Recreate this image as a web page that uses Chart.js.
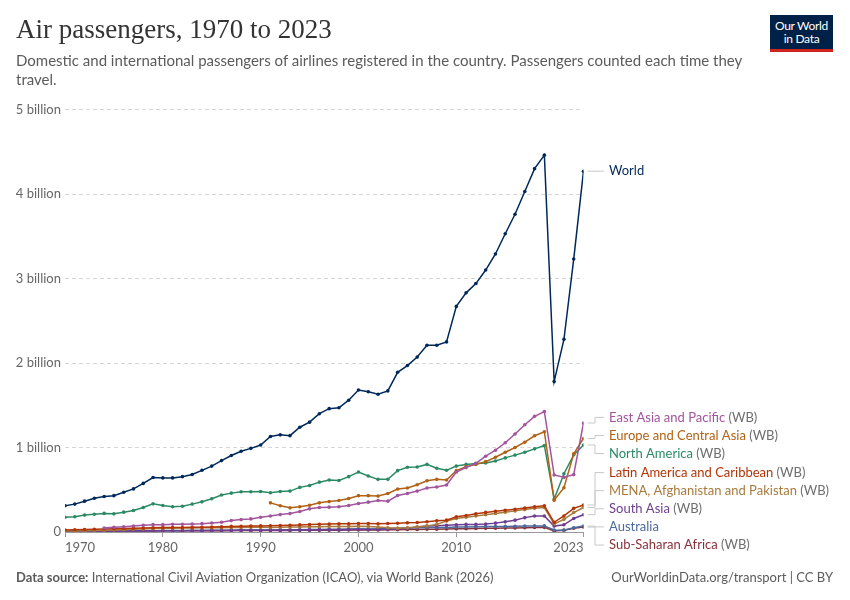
<!DOCTYPE html>
<html>
<head>
<meta charset="utf-8">
<script src="https://cdn.jsdelivr.net/npm/chart.js@4.4.1/dist/chart.umd.min.js"></script>
<style>
  body { margin: 0; background: #fff; }
  #wrap { position: relative; width: 850px; height: 600px; font-family: Lato, sans-serif; overflow: hidden; }
  #title { position: absolute; left: 16px; top: 14px; margin: 0; font: 400 27px "Liberation Serif", serif; color: #333; }
  #subtitle { position: absolute; left: 16px; top: 51px; width: 760px; font-size: 15px; line-height: 19px; color: #5b5b5b; }
  #logo { position: absolute; left: 770px; top: 15px; width: 63px; height: 30px; background: #002147; border-bottom: 3px solid #ce261e;
          color: #fff; font-size: 12px; line-height: 13px; text-align: center; padding-top: 4px; box-sizing: content-box; letter-spacing: -0.3px; }
  #source { position: absolute; left: 16px; top: 569px; font-size: 13px; color: #5b5b5b; }
  #source b { font-weight: 700; }
  #url { position: absolute; right: 17px; top: 569px; font-size: 13px; color: #5b5b5b; }
  canvas { position: absolute; left: 0; top: 0; }
</style>
</head>
<body>
<div id="wrap">
  <canvas id="myChart" width="850" height="600"></canvas>
  <h1 id="title">Air passengers, 1970 to 2023</h1>
  <div id="subtitle">Domestic and international passengers of airlines registered in the country. Passengers counted each time they<br>travel.</div>
  <div id="logo">Our World<br>in Data</div>
  <div id="source"><b>Data source:</b> International Civil Aviation Organization (ICAO), via World Bank (2026)</div>
  <div id="url">OurWorldinData.org/transport | CC BY</div>
</div>
<script>
Chart.defaults.font.family = 'Lato, sans-serif';
Chart.defaults.font.size = 13;
Chart.defaults.color = '#666';

// years 1970..2023
const years = [];
for (let y = 1970; y <= 2023; y++) years.push(y);

const xTicks = [1970, 1980, 1990, 2000, 2010, 2023];
const yTicks = [0, 1, 2, 3, 4, 5];

// passengers, billions
const world = [
    0.31, 0.33, 0.365, 0.40, 0.42, 0.43, 0.47, 0.51, 0.575, 0.645,
    0.64, 0.64, 0.655, 0.68, 0.73, 0.78, 0.845, 0.905, 0.956, 0.99,
    1.03, 1.13, 1.15, 1.14, 1.24, 1.30, 1.40, 1.46, 1.47, 1.56,
    1.68, 1.66, 1.63, 1.67, 1.89, 1.97, 2.07, 2.21, 2.21, 2.25,
    2.67, 2.83, 2.94, 3.10, 3.29, 3.53, 3.76, 4.03, 4.30, 4.46,
    1.78, 2.28, 3.23, 4.27
];
const eastAsia = [
    null, null, null, null, 0.048, 0.056, 0.063, 0.071, 0.079, 0.087,
    0.087, 0.091, 0.091, 0.095, 0.099, 0.107, 0.115, 0.135, 0.147, 0.155,
    0.175, 0.19, 0.206, 0.218, 0.242, 0.274, 0.29, 0.294, 0.298, 0.313,
    0.337, 0.353, 0.373, 0.365, 0.432, 0.456, 0.484, 0.52, 0.532, 0.556,
    0.71, 0.762, 0.813, 0.897, 0.968, 1.056, 1.159, 1.27, 1.369, 1.425,
    0.675, 0.647, 0.679, 1.29
];
const europe = [
    null, null, null, null, null, null, null, null, null, null,
    null, null, null, null, null, null, null, null, null, null,
    null, 0.345, 0.31, 0.286, 0.298, 0.317, 0.345, 0.36, 0.373, 0.397,
    0.43, 0.43, 0.425, 0.456, 0.508, 0.52, 0.56, 0.607, 0.623, 0.615,
    0.726, 0.774, 0.80, 0.833, 0.885, 0.944, 1.0, 1.063, 1.139, 1.187,
    0.377, 0.524, 0.925, 1.107
];
const northAmerica = [
    0.175, 0.18, 0.20, 0.21, 0.22, 0.215, 0.235, 0.255, 0.29, 0.333,
    0.313, 0.298, 0.305, 0.33, 0.357, 0.393, 0.437, 0.46, 0.476, 0.476,
    0.48, 0.464, 0.48, 0.484, 0.528, 0.55, 0.59, 0.615, 0.61, 0.655,
    0.71, 0.663, 0.623, 0.623, 0.726, 0.766, 0.77, 0.80, 0.754, 0.73,
    0.78, 0.80, 0.81, 0.817, 0.84, 0.877, 0.91, 0.944, 0.984, 1.024,
    0.39, 0.69, 0.913, 1.03
];
const latinAmerica = [
    0.024, 0.026, 0.029, 0.032, 0.035, 0.038, 0.041, 0.044, 0.047, 0.05,
    0.052, 0.053, 0.054, 0.055, 0.057, 0.06, 0.063, 0.066, 0.068, 0.07,
    0.072, 0.074, 0.076, 0.08, 0.084, 0.088, 0.092, 0.095, 0.097, 0.098,
    0.10, 0.10, 0.098, 0.10, 0.104, 0.108, 0.113, 0.122, 0.132, 0.14,
    0.18, 0.195, 0.215, 0.232, 0.245, 0.258, 0.268, 0.283, 0.298, 0.31,
    0.115, 0.19, 0.28, 0.32
];
const mena = [
    0.012, 0.013, 0.015, 0.017, 0.02, 0.024, 0.028, 0.032, 0.036, 0.04,
    0.043, 0.045, 0.047, 0.048, 0.049, 0.05, 0.051, 0.052, 0.054, 0.056,
    0.056, 0.054, 0.056, 0.058, 0.06, 0.062, 0.063, 0.064, 0.064, 0.066,
    0.068, 0.066, 0.058, 0.05, 0.045, 0.05, 0.06, 0.07, 0.09, 0.13,
    0.16, 0.175, 0.19, 0.205, 0.22, 0.235, 0.25, 0.265, 0.28, 0.29,
    0.095, 0.15, 0.23, 0.29
];
const southAsia = [
    0.006, 0.007, 0.007, 0.008, 0.009, 0.01, 0.011, 0.012, 0.013, 0.014,
    0.015, 0.016, 0.016, 0.017, 0.018, 0.018, 0.019, 0.019, 0.02, 0.02,
    0.02, 0.021, 0.022, 0.023, 0.024, 0.025, 0.026, 0.027, 0.028, 0.029,
    0.03, 0.03, 0.031, 0.032, 0.035, 0.045, 0.06, 0.07, 0.075, 0.08,
    0.085, 0.09, 0.09, 0.095, 0.105, 0.12, 0.14, 0.17, 0.19, 0.19,
    0.07, 0.085, 0.16, 0.205
];
const australia = [
    0.008, 0.009, 0.01, 0.011, 0.012, 0.013, 0.013, 0.014, 0.015, 0.016,
    0.017, 0.017, 0.017, 0.018, 0.019, 0.02, 0.021, 0.022, 0.023, 0.024,
    0.024, 0.025, 0.026, 0.027, 0.028, 0.03, 0.031, 0.032, 0.033, 0.035,
    0.038, 0.036, 0.038, 0.04, 0.045, 0.047, 0.049, 0.052, 0.053, 0.053,
    0.058, 0.06, 0.062, 0.064, 0.065, 0.066, 0.068, 0.07, 0.072, 0.072,
    0.024, 0.02, 0.05, 0.07
];
const subSaharan = [
    0.005, 0.005, 0.006, 0.007, 0.008, 0.009, 0.01, 0.011, 0.012, 0.013,
    0.014, 0.014, 0.015, 0.015, 0.015, 0.016, 0.016, 0.017, 0.017, 0.018,
    0.018, 0.018, 0.019, 0.019, 0.02, 0.02, 0.021, 0.022, 0.022, 0.023,
    0.024, 0.024, 0.025, 0.026, 0.028, 0.03, 0.031, 0.033, 0.034, 0.035,
    0.037, 0.039, 0.041, 0.043, 0.045, 0.046, 0.048, 0.05, 0.053, 0.055,
    0.012, 0.022, 0.045, 0.058
];

const seriesNames = ['World', 'East Asia and Pacific', 'Europe and Central Asia', 'North America',
    'Latin America and Caribbean', 'MENA, Afghanistan and Pakistan', 'South Asia', 'Australia', 'Sub-Saharan Africa'];
const seriesSuffix = ['', '(WB)', '(WB)', '(WB)', '(WB)', '(WB)', '(WB)', '', '(WB)'];
const seriesValues = [world, eastAsia, europe, northAmerica, latinAmerica, mena, southAsia, australia, subSaharan];
const seriesColors = ['#00295b', '#a2559c', '#b16214', '#2b8a64', '#b13507', '#a87a3e', '#6d3e91', '#4c6a9c', '#883039'];

function toPoints(vals) {
    return years.map((yr, i) => ({ x: yr, y: vals[i] }));
}

const endLabels = {
    id: 'endLabels',
    afterDatasetsDraw(chart) {
        const ctx = chart.ctx;
        const gap = 18.1;
        const maxY = chart.chartArea.bottom + 13;
        const items = chart.data.datasets.map((ds, i) => {
            const meta = chart.getDatasetMeta(i);
            const pt = meta.data[meta.data.length - 1];
            return { i: i, x: pt.x, target: pt.y, y: pt.y };
        });
        items.sort((a, b) => a.target - b.target);
        let clusters = items.map(it => ({ items: [it], top: it.target }));
        let merged = true;
        while (merged) {
            merged = false;
            for (let k = 0; k < clusters.length - 1; k++) {
                const a = clusters[k], b = clusters[k + 1];
                if (a.top + a.items.length * gap > b.top) {
                    const all = a.items.concat(b.items);
                    const mean = all.reduce((s, it) => s + it.target, 0) / all.length;
                    clusters.splice(k, 2, { items: all, top: mean - (all.length - 1) * gap / 2 });
                    merged = true;
                    break;
                }
            }
        }
        clusters.forEach(c => {
            const bottom = c.top + (c.items.length - 1) * gap;
            if (bottom > maxY) c.top -= bottom - maxY;
            c.items.forEach((it, j) => { it.y = c.top + j * gap; });
        });

        ctx.save();
        ctx.font = '13px Lato, sans-serif';
        ctx.textBaseline = 'middle';
        items.forEach(it => {
            const x0 = it.x + 4, elbow = 595, x1 = 604;
            ctx.strokeStyle = '#c8c8c8';
            ctx.lineWidth = 1;
            ctx.beginPath();
            ctx.moveTo(x0, it.target);
            ctx.lineTo(elbow, it.target);
            ctx.lineTo(elbow, it.y);
            ctx.lineTo(x1, it.y);
            ctx.stroke();
            const name = seriesNames[it.i];
            ctx.fillStyle = seriesColors[it.i];
            ctx.fillText(name, 609, it.y);
            if (seriesSuffix[it.i]) {
                const w = ctx.measureText(name + ' ').width;
                ctx.fillStyle = '#6e6e6e';
                ctx.fillText(seriesSuffix[it.i], 609 + w, it.y);
            }
        });
        ctx.restore();
    }
};

const ctx = document.getElementById('myChart');

new Chart(ctx, {
    type: 'line',
    data: {
        datasets: seriesValues.map((vals, i) => ({
            label: seriesNames[i],
            data: toPoints(vals),
            borderColor: seriesColors[i],
            backgroundColor: seriesColors[i],
            borderWidth: 1.5,
            pointRadius: 1.8,
            pointBorderWidth: 0,
            tension: 0,
            spanGaps: false
        }))
    },
    options: {
        responsive: false,
        animation: false,
        layout: {
            padding: { top: 109.5, left: 16, right: 266.5, bottom: 38 }
        },
        plugins: {
            legend: { display: false },
            tooltip: { enabled: false }
        },
        scales: {
            x: {
                type: 'linear',
                min: 1970,
                max: 2023,
                afterBuildTicks: (scale) => { scale.ticks = xTicks.map(v => ({ value: v })); },
                afterFit: (scale) => { scale.height = 30; },
                ticks: {
                    align: 'inner',
                    maxRotation: 0,
                    padding: 3,
                    color: '#666',
                    font: { size: 13 },
                    callback: (v) => String(v)
                },
                grid: { drawOnChartArea: false, drawTicks: true, tickLength: 5, color: '#999' },
                border: { display: true, color: '#999' }
            },
            y: {
                min: 0,
                max: 5,
                afterBuildTicks: (scale) => { scale.ticks = yTicks.map(v => ({ value: v })); },
                afterFit: (scale) => { scale.width = 49; },
                ticks: {
                    padding: 4,
                    color: '#666',
                    font: { size: 13 },
                    callback: (v) => v === 0 ? '0' : v + ' billion'
                },
                grid: { color: '#d6d6d6', drawTicks: false },
                border: { display: false, dash: [4, 3] }
            }
        }
    },
    plugins: [endLabels]
});
</script>
</body>
</html>
